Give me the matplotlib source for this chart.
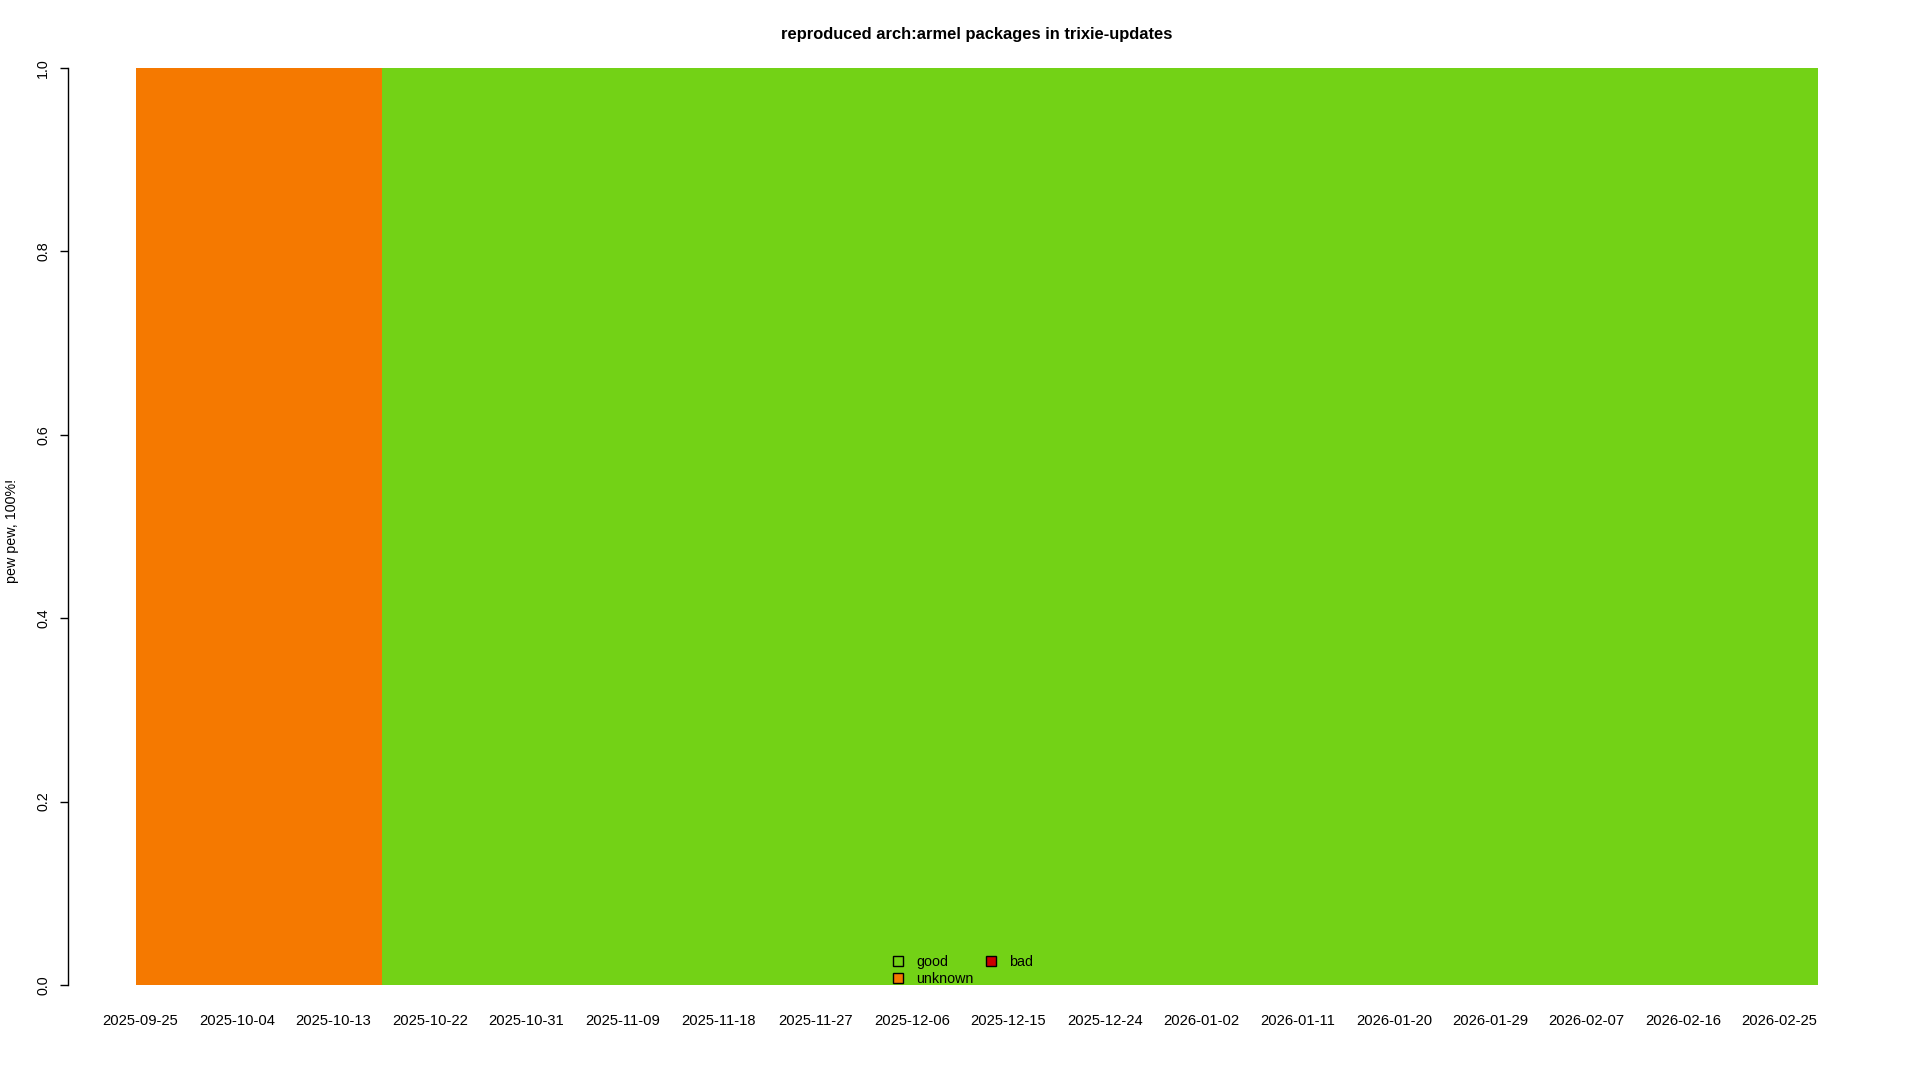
import matplotlib
matplotlib.use('Agg')
import matplotlib.pyplot as plt
import pandas as pd
from matplotlib.patches import Patch

plt.rcParams['font.family'] = ['Liberation Sans', 'DejaVu Sans']

# snapshot dates and share of packages per state (step-wise until next date)
dates = ['2025-09-25', '2025-10-18', '2026-03-01']
good = [0.0, 1.0, 1.0]
unknown = [1.0, 0.0, 0.0]
bad = [0.0, 0.0, 0.0]

tick_labels = ['2025-09-25', '2025-10-04', '2025-10-13', '2025-10-22', '2025-10-31',
               '2025-11-09', '2025-11-18', '2025-11-27', '2025-12-06', '2025-12-15',
               '2025-12-24', '2026-01-02', '2026-01-11', '2026-01-20', '2026-01-29',
               '2026-02-07', '2026-02-16', '2026-02-25']
y_ticks = [0.0, 0.2, 0.4, 0.6, 0.8, 1.0]

colors = {'good': '#73d216', 'unknown': '#f57900', 'bad': '#cc0000'}

x = pd.to_datetime(dates)
fig = plt.figure(figsize=(19.2, 10.8), dpi=100)
ax = fig.add_axes([136 / 1920, 1 - 985 / 1080, (1818 - 136) / 1920, (985 - 68) / 1080])

# stacked areas: good at bottom, then unknown, then bad
base = [0.0] * len(x)
for name, vals in [('good', good), ('unknown', unknown), ('bad', bad)]:
    top = [b + v for b, v in zip(base, vals)]
    ax.fill_between(x, base, top, step='post', color=colors[name], linewidth=0)
    base = top

ax.set_xlim(x[0], x[-1])
ax.set_ylim(0, 1)

# labels sit a little to the right of the day boundary, as in the original
ax.tick_params(axis='x', length=0, pad=21)
ax.set_xticks(pd.to_datetime(tick_labels) + pd.Timedelta(hours=10))
ax.set_xticklabels(tick_labels, fontsize=10.6)

# y tick marks from the axis, labels drawn rotated R-style
ax.set_yticks(y_ticks)
ax.tick_params(axis='y', length=8 * 0.72, width=1, labelleft=False)
for v in y_ticks:
    ax.text(-93 / 1682, v, '%.1f' % v, transform=ax.get_yaxis_transform(),
            rotation=90, ha='center', va='center', fontsize=10.3)

for side in ['top', 'right', 'bottom']:
    ax.spines[side].set_visible(False)
ax.spines['left'].set_position(('outward', 68 * 0.72))
ax.spines['left'].set_bounds(0, 1)
ax.spines['left'].set_linewidth(1)

fig.text(0.5 * (136 + 1818) / 1920, 1 - 34.5 / 1080,
         'reproduced arch:armel packages in trixie-updates',
         ha='center', va='center', fontsize=11.85, fontweight='bold')
fig.text(12 / 1920, 1 - 531 / 1080, 'pew pew, 100%!', rotation=90,
         ha='center', va='center', fontsize=10.3)

handles = [Patch(facecolor=colors['good'], edgecolor='black', linewidth=1),
           Patch(facecolor=colors['unknown'], edgecolor='black', linewidth=1),
           Patch(facecolor=colors['bad'], edgecolor='black', linewidth=1)]
fig.legend(handles, ['good', 'unknown', 'bad'], ncol=2, frameon=False,
           loc='upper left', bbox_to_anchor=(893 / 1920, 1 - 955 / 1080),
           fontsize=10.3, handlelength=0.7, handleheight=0.7, handletextpad=0.9,
           columnspacing=0.9, labelspacing=0.2, borderpad=0, borderaxespad=0)

fig.savefig('out.png', dpi=100)
